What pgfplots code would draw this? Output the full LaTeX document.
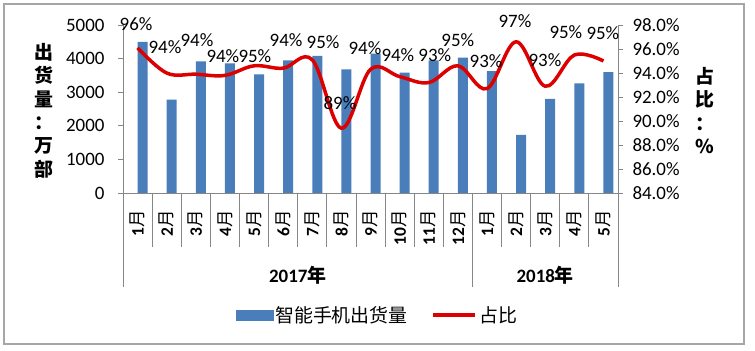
\documentclass[border=0pt]{standalone}
\usepackage{fontspec}
\setmainfont{Carlito}
\newfontfamily\cjk{Noto Sans CJK SC}
\usepackage{pgfplots}
\pgfplotsset{compat=1.18}
\definecolor{barblue}{RGB}{74,126,187}
\definecolor{linered}{RGB}{220,0,0}
\definecolor{axgray}{RGB}{134,134,134}
\definecolor{framegray}{RGB}{166,166,166}
\newcommand{\fs}[1]{\fontsize{#1}{#1}\selectfont}
\newcommand{\mon}[1]{\textbf{#1}{\cjk 月}}

\pgfplotstableread{
x y lab
-0.05 98.06 96\%
0.94 96.13 94\%
2.04 96.72 94\%
2.93 95.37 94\%
4.03 95.37 95\%
5.10 96.72 94\%
6.37 96.55 95\%
6.95 91.52 89\%
7.81 96.10 94\%
8.94 95.46 94\%
10.21 95.46 93\%
11.00 96.72 95\%
11.97 94.96 93\%
12.96 98.31 97\%
13.99 95.04 93\%
14.71 97.43 95\%
15.98 97.30 95\%
}\labtable

\begin{document}
\begin{tikzpicture}
\path (0bp,0bp) rectangle (755bp,351bp);
\draw[framegray, line width=1.5bp] (4bp,7bp) rectangle (744bp,347bp);
\begin{axis}[
  at={(123bp,158bp)}, anchor=south west,
  scale only axis, width=495bp, height=168bp,
  xmin=-0.5, xmax=16.5, ymin=0, ymax=5000,
  axis y line*=left, axis x line*=bottom,
  axis line style={axgray, line width=0.8bp},
  ybar, bar width=10bp, bar shift=5bp,
  ytick={0,1000,2000,3000,4000,5000},
  /pgf/number format/assume math mode=true,
  /pgf/number format/1000 sep={},
  scaled y ticks=false,
  tick align=outside, major tick length=5bp,
  ytick style={axgray, line width=0.8bp},
  yticklabel style={font=\fs{19}, anchor=east, xshift=-10bp},
  xtick={0,1,2,3,4,5,6,7,8,9,10,11,12,13,14,15,16},
  xticklabels={\mon{1},\mon{2},\mon{3},\mon{4},\mon{5},\mon{6},\mon{7},\mon{8},\mon{9},\mon{10},\mon{11},\mon{12},\mon{1},\mon{2},\mon{3},\mon{4},\mon{5}},
  xtick style={draw=none},
  xticklabel style={rotate=90, anchor=east, font=\fs{17.5}, inner sep=0pt},
  xticklabel shift=12bp,
  ylabel={出\\货\\量\\：\\万\\部},
  ylabel style={rotate=-90, align=center, font=\cjk\bfseries\fontsize{19}{23.5}\selectfont,
    at={(axis description cs:-0.16,0.49)}, anchor=center},
  clip=false,
]
\addplot[fill=barblue, draw=none] coordinates {
(0,4500) (1,2780) (2,3920) (3,3860) (4,3530) (5,3950) (6,4080) (7,3680) (8,4150)
(9,3580) (10,3950) (11,4030) (12,3630) (13,1730) (14,2800) (15,3260) (16,3600)};
\pgfplotsinvokeforeach{-0.5,0.5,1.5,2.5,3.5,4.5,5.5,6.5,7.5,8.5,9.5,10.5,11.5,12.5,13.5,14.5,15.5,16.5}{
  \draw[axgray, line width=0.8bp] (axis cs:#1,0) -- ++(0bp,-54bp);}
\pgfplotsinvokeforeach{-0.5,11.5,16.5}{
  \draw[axgray, line width=0.8bp] (axis cs:#1,0) -- ++(0bp,-94bp);}
\node[font=\bfseries\fs{19}] at (axis cs:5.5,0) [yshift=-82bp] {2017{\cjk 年}};
\node[font=\bfseries\fs{19}] at (axis cs:14,0) [yshift=-82bp] {2018{\cjk 年}};
\end{axis}
\begin{axis}[
  at={(123bp,158bp)}, anchor=south west,
  scale only axis, width=495bp, height=168bp,
  xmin=-0.5, xmax=16.5, ymin=84, ymax=98,
  axis y line*=right, axis x line=none,
  axis line style={axgray, line width=0.8bp},
  ytick={84,86,88,90,92,94,96,98},
  tick align=outside, major tick length=5bp,
  ytick style={axgray, line width=0.8bp},
  /pgf/number format/assume math mode=true,
  yticklabel={\pgfmathprintnumber[fixed,fixed zerofill,precision=1]{\tick}\%},
  yticklabel style={font=\fs{19}, anchor=west, xshift=6bp},
  ylabel={占\\比\\：\\\%},
  ylabel style={rotate=-90, align=center, font=\cjk\bfseries\fontsize{19}{23.5}\selectfont,
    at={(axis description cs:1.176,0.49)}, anchor=center},
  clip=false,
  legend style={at={(axis description cs:0.514,-0.726)}, anchor=center, draw=none, fill=none,
    legend columns=2, font=\cjk\fs{19},
    /tikz/every even column/.append style={column sep=22bp}},
]
\addlegendimage{legend image code/.code={\fill[barblue] (0bp,-5bp) rectangle (37bp,5bp);}}
\addlegendentry{智能手机出货量}
\addplot[linered, line width=3.5bp, smooth, tension=0.6, mark=none,
  legend image code/.code={\draw[linered, line width=3.5bp] (0bp,0bp) -- (42bp,0bp);}]
coordinates {
(0,96.1) (1,94.0) (2,93.9) (3,93.8) (4,94.6) (5,94.4) (6,95.1) (7,89.4) (8,94.3)
(9,93.7) (10,93.2) (11,94.6) (12,92.7) (13,96.6) (14,92.9) (15,95.5) (16,95.0)};
\addlegendentry{占比}
\addplot[draw=none, mark=none, forget plot, nodes near coords, point meta=explicit symbolic,
  nodes near coords align={center},
  every node near coord/.append style={font=\fs{19}, anchor=center, inner sep=0pt}]
  table[x=x, y=y, meta=lab] {\labtable};
\end{axis}
\end{tikzpicture}
\end{document}
